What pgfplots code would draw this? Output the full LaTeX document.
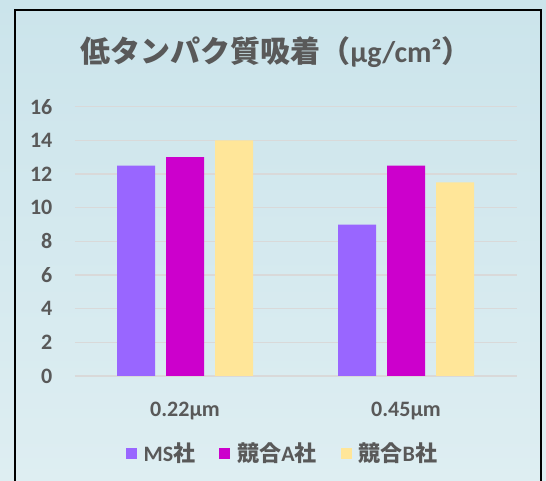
\documentclass[border=0pt]{standalone}
\usepackage{pgfplots}
\pgfplotsset{compat=1.18}
\usepackage{fontspec}
\setmainfont{Carlito}
\newfontfamily\cjk{Noto Sans CJK JP}
\definecolor{msc}{RGB}{153,102,255}
\definecolor{ac}{RGB}{204,0,204}
\definecolor{bc}{RGB}{255,230,153}
\definecolor{txt}{RGB}{89,89,89}
\definecolor{gridc}{RGB}{217,217,217}
\definecolor{bgtop}{RGB}{203,228,235}
\definecolor{bgbot}{RGB}{222,238,242}
\begin{document}
\begin{tikzpicture}[x=1pt,y=1pt]
\shade[top color=bgtop,bottom color=bgbot] (0,0) rectangle (546,481);
\path[use as bounding box] (0,0) rectangle (546,481);
\draw[black,line width=2.2pt] (15,-5) -- (15,471) -- (541,471) -- (541,-5);
\node[font=\fontsize{30}{35}\selectfont\bfseries, text=txt, inner sep=0pt] at (276,429) {{\cjk 低タンパク質吸着（}μg/cm²{\cjk ）}};
\begin{axis}[
  at={(74.5pt,105pt)}, anchor=south west,
  scale only axis, width=442pt, height=269.3pt,
  xmin=-0.5, xmax=1.5, ymin=0, ymax=16,
  ytick={0,2,...,16},
  xtick={0,1}, xticklabels={0.22μm,0.45μm},
  /pgf/number format/assume math mode=true,
  ymajorgrids, grid style={draw=gridc, line width=1.5pt},
  axis line style={draw=none}, tick style={draw=none},
  ybar=11pt, bar width=38pt,
  tick label style={font=\fontsize{22}{26}\selectfont\bfseries, text=txt},
  yticklabel style={anchor=east, inner sep=0pt, xshift=-22pt},
  xticklabel style={anchor=north, inner sep=0pt, yshift=-22pt},
  legend columns=3,
  legend style={at={(0.468,-0.286)}, anchor=center, draw=none, fill=none,
    font=\fontsize{22}{26}\selectfont\bfseries, text=txt, inner sep=0pt,
    nodes={inner sep=0pt},
    /tikz/every odd column/.append style={column sep=7pt},
    /tikz/every even column/.append style={column sep=24pt}},
  legend image code/.code={\path[#1,draw=none] (0pt,-5.5pt) rectangle (11pt,5.5pt);},
]
\addplot[fill=msc, draw=none] coordinates {(0,12.5) (1,9)};
\addplot[fill=ac, draw=none] coordinates {(0,13) (1,12.5)};
\addplot[fill=bc, draw=none] coordinates {(0,14) (1,11.5)};
\legend{MS{\cjk 社},{\cjk 競合}A{\cjk 社},{\cjk 競合}B{\cjk 社}}
\end{axis}
\end{tikzpicture}
\end{document}
